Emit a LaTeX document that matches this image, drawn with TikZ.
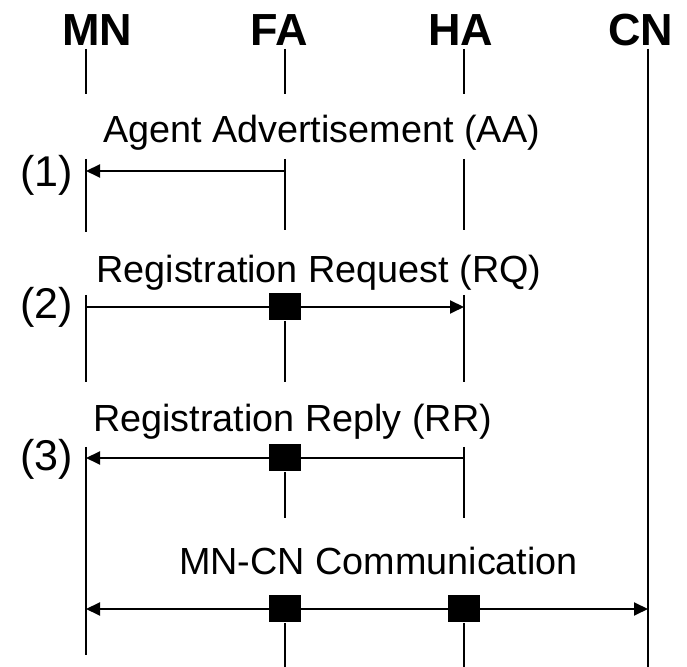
\documentclass[tikz,border=0pt]{standalone}
\usepackage{fontspec}
\setmainfont{Liberation Sans}
\usetikzlibrary{arrows.meta}

\begin{document}
\begin{tikzpicture}[
  lane/.style={line width=0.9pt},
  msg/.style={line width=1.1pt,-{Triangle[length=2.8mm,width=2.6mm]}},
  msgboth/.style={line width=1.1pt,{Triangle[length=2.8mm,width=2.6mm]}-{Triangle[length=2.8mm,width=2.6mm]}},
  relay/.style={fill=black,inner sep=0pt,minimum width=6.4mm,minimum height=5.4mm},
  entity/.style={font=\fontsize{25.6}{28}\selectfont\bfseries,anchor=base,inner sep=0pt},
  msgtext/.style={font=\fontsize{21.5}{24}\selectfont,anchor=base,inner sep=0pt},
  stepno/.style={font=\fontsize{24.5}{27}\selectfont,anchor=base,inner sep=0pt}]
  \useasboundingbox (0,0) rectangle (13.74,13.34);
  \node[entity] (MN) at (1.95,12.42) {MN};
  \node[entity] (FA) at (5.58,12.42) {FA};
  \node[entity] (HA) at (9.21,12.42) {HA};
  \node[entity] (CN) at (12.81,12.42) {CN};
  \foreach \n/\x in {mn/1.72,fa/5.70,ha/9.28,cn/12.96}{
    \coordinate (\n0) at (\x,12.36);
    \coordinate (\n1) at (\x,9.92);
    \coordinate (\n2) at (\x,7.20);
    \coordinate (\n3) at (\x,4.18);
    \coordinate (\n4) at (\x,1.16);
    \draw[lane] (\n0) -- ++(0,-0.9);
  }
  \draw[lane] (cn0) -- (12.96,0);
  \draw[lane] ([yshift=0.24cm]mn1) -- ([yshift=-1.22cm]mn1);
  \draw[lane] ([yshift=0.24cm]fa1) -- ([yshift=-1.18cm]fa1);
  \draw[lane] ([yshift=0.24cm]ha1) -- ([yshift=-1.18cm]ha1);
  \draw[lane] ([yshift=0.24cm]mn2) -- ([yshift=-1.50cm]mn2);
  \draw[lane] ([yshift=0.24cm]ha2) -- ([yshift=-1.50cm]ha2);
  \draw[lane] ([yshift=0.22cm]mn3) -- ([yshift=-3.94cm]mn3);
  \draw[lane] ([yshift=0.22cm]ha3) -- ([yshift=-1.20cm]ha3);
  \node[msgtext] (aa) at (6.43,10.48) {Agent Advertisement (AA)};
  \node[msgtext] (rq) at (6.38,7.68) {Registration Request (RQ)};
  \node[msgtext] (rr) at (5.85,4.70) {Registration Reply (RR)};
  \node[msgtext] (cc) at (7.57,1.84) {MN-CN Communication};
  \node[stepno] (s1) at (0.93,9.60) {(1)};
  \node[stepno] (s2) at (0.93,6.96) {(2)};
  \node[stepno] (s3) at (0.93,3.92) {(3)};
  \draw[msg] (fa1) -- (mn1);
  \draw[msg] (mn2) -- (ha2);
  \draw[msg] (ha3) -- (mn3);
  \draw[msgboth] (mn4) -- (cn4);
  \node[relay] (fa2box) at (fa2) {};
  \node[relay] (fa3box) at (fa3) {};
  \node[relay] (fa4box) at (fa4) {};
  \node[relay] (ha4box) at (ha4) {};
  \draw[lane] (fa2box.south) -- ([yshift=-1.50cm]fa2);
  \draw[lane] (fa3box.south) -- ([yshift=-1.20cm]fa3);
  \draw[lane] (fa4box.south) -- (5.70,0);
  \draw[lane] (ha4box.south) -- (9.28,0);
\end{tikzpicture}
\end{document}
